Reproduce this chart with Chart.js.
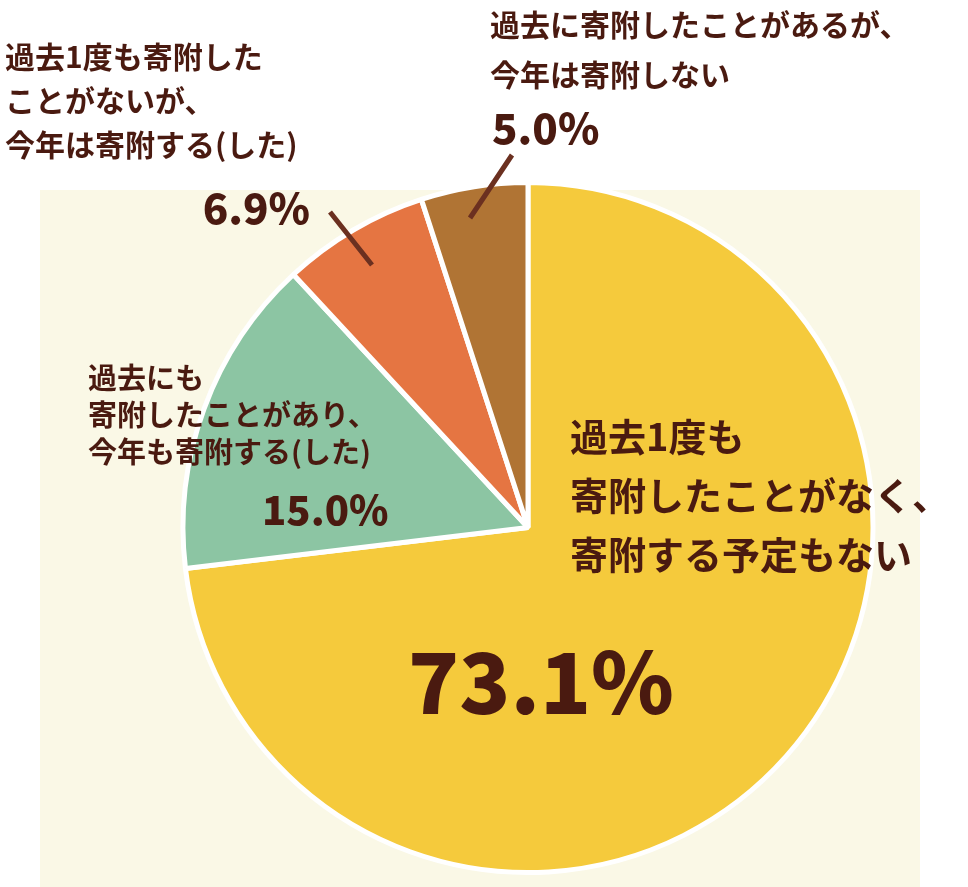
<!DOCTYPE html>
<html><head><meta charset="utf-8">
<script src="https://cdn.jsdelivr.net/npm/chart.js@4"></script>
<style>html,body{margin:0;padding:0;background:#fff}#w{width:968px;height:887px}</style>
</head><body><div id="w"><canvas id="c"></canvas></div>
<script>
const categories=["過去1度も寄附したことがなく、寄附する予定もない","過去にも寄附したことがあり、今年も寄附する(した)","過去1度も寄附したことがないが、今年は寄附する(した)","過去に寄附したことがあるが、今年は寄附しない"];
const values=[73.1,15.0,6.9,5.0];
const colors=["#F5CA3C","#8CC5A3","#E57542","#B07434"];
const TXT="#4A1A10";
const F="'Noto Sans CJK JP','Noto Sans',sans-serif";
const labelsPlugin={id:'lbl',
beforeDraw(ch){const c=ch.ctx;c.save();c.fillStyle="#FAF8E6";c.fillRect(40,190,880,697);c.restore();},
afterDraw(ch){const c=ch.ctx;c.save();c.fillStyle=TXT;c.textBaseline="middle";c.textAlign="left";
function lines(arr,x,y0,dy,size,w){c.font=`${w} ${size}px ${F}`;arr.forEach((t,i)=>c.fillText(t,x,y0+i*dy));}
lines(["過去1度も","寄附したことがなく、","寄附する予定もない"],570,437,59,38,"700");
c.textAlign="center";c.font=`900 84px ${F}`;c.fillText(values[0].toFixed(1)+"%",541,682);
c.textAlign="left";
lines(["過去にも","寄附したことがあり、","今年も寄附する(した)"],88,378,37,29,"700");
c.font=`900 40px ${F}`;c.fillText(values[1].toFixed(1)+"%",262,510);
lines(["過去1度も寄附した","ことがないが、","今年は寄附する(した)"],5,57,44,30,"700");
c.textAlign="right";c.font=`900 42px ${F}`;c.fillText(values[2].toFixed(1)+"%",310,208);
c.textAlign="left";
lines(["過去に寄附したことがあるが、","今年は寄附しない"],490,25,50,30,"700");
c.font=`900 42px ${F}`;c.fillText(values[3].toFixed(1)+"%",492,128);
c.strokeStyle="#6B3020";c.lineWidth=5;c.beginPath();c.moveTo(330,212);c.lineTo(372,265);c.moveTo(512,155);c.lineTo(470,218);c.stroke();
c.restore();}};
new Chart(document.getElementById('c'),{type:'pie',
data:{labels:categories,datasets:[{data:values,backgroundColor:colors,borderColor:"#fff",borderWidth:5}]},
options:{responsive:true,maintainAspectRatio:false,animation:false,
layout:{padding:{left:180,right:92,top:180,bottom:12}},
plugins:{legend:{display:false},tooltip:{enabled:false}}},
plugins:[labelsPlugin]});
</script></body></html>
